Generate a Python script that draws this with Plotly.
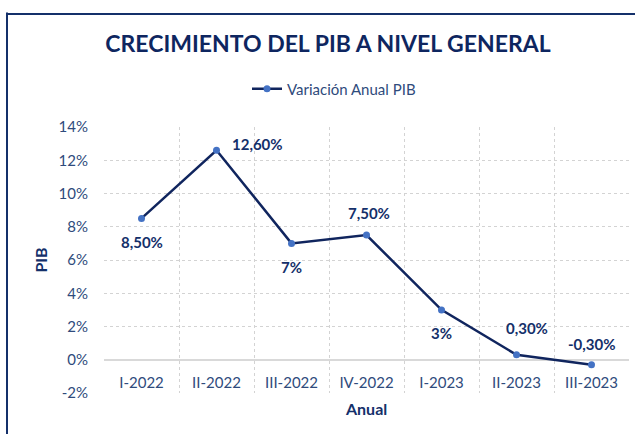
import plotly.graph_objects as go

# Quarterly GDP growth data
quarters = ["I-2022", "II-2022", "III-2022", "IV-2022", "I-2023", "II-2023", "III-2023"]
growth = [8.5, 12.6, 7.0, 7.5, 3.0, 0.3, -0.3]
value_labels = ["8,50%", "12,60%", "7%", "7,50%", "3%", "0,30%", "-0,30%"]
y_ticks = [-2, 0, 2, 4, 6, 8, 10, 12, 14]
y_tick_text = ["-2%", "0%", "2%", "4%", "6%", "8%", "10%", "12%", "14%"]

FONT = "Lato"
NAVY = "#14306A"
TICK_BLUE = "#2F4B7C"
LINE = "#10255E"
MARKER = "#4472C4"

W, H = 635, 434
L, R, T, B = 104, 6, 127, 41
pw, ph = W - L - R, H - T - B


def px_x(p):
    return (p - L) / pw


def px_y(p):
    return 1 - (p - T) / ph


fig = go.Figure()
fig.add_trace(go.Scatter(
    x=quarters, y=growth, mode="lines+markers",
    name="Variación Anual PIB",
    line=dict(color=LINE, width=2.5),
    marker=dict(color=MARKER, size=7),
))

# label offsets (px) for each point
shifts = [(0, -24), (41, 6), (0, -24), (2, 22), (0, -23), (10, 27), (0, 21)]
for q, v, t, (dx, dy) in zip(quarters, growth, value_labels, shifts):
    fig.add_annotation(x=q, y=v, text=f"<b>{t}</b>", showarrow=False,
                       xshift=dx, yshift=dy,
                       font=dict(family=FONT, size=15, color=NAVY))

# x-axis title below the category labels
fig.add_annotation(xref="paper", yref="paper", x=px_x(366), y=px_y(408),
                   text="<b>Anual</b>", showarrow=False, xanchor="center", yanchor="middle",
                   font=dict(family=FONT, size=16, color=NAVY))

# outer frame: top edge drawn as a thin filled annotation box, left edge as a shape
fig.add_annotation(xref="paper", yref="paper", x=px_x(6), y=px_y(12.5),
                   xanchor="left", yanchor="top", text=" ", showarrow=False,
                   width=629, height=2, bgcolor=NAVY, borderpad=0, borderwidth=0,
                   font=dict(size=1, color=NAVY))
fig.add_shape(type="rect", xref="paper", yref="paper",
              x0=px_x(6), x1=px_x(15.5 - 7.5), y0=px_y(440), y1=px_y(12.5),
              line=dict(width=0), fillcolor=NAVY, layer="above")

fig.update_layout(
    width=W, height=H,
    margin=dict(l=L, r=R, t=T, b=B),
    paper_bgcolor="white", plot_bgcolor="white",
    font=dict(family=FONT, color=TICK_BLUE),
    title=dict(text="<b>CRECIMIENTO DEL PIB A NIVEL GENERAL</b>",
               x=328 / W, xanchor="center", y=1 - 44 / H, yanchor="middle",
               font=dict(family=FONT, size=23, color="#0E2660")),
    showlegend=True,
    legend=dict(orientation="h", x=px_x(334), xanchor="center",
                y=px_y(89), yanchor="middle",
                font=dict(family=FONT, size=15, color=TICK_BLUE)),
    xaxis=dict(
        type="category", tickson="boundaries",
        showgrid=True, gridcolor="#D3D3D3", griddash="dot", gridwidth=1,
        showline=False, zeroline=False,
        anchor="free", position=2 / 16,
        ticks="", ticklabelstandoff=12,
        tickfont=dict(family=FONT, size=15, color=TICK_BLUE),
        range=[-0.5, 6.5],
    ),
    yaxis=dict(
        range=[-2, 14], tickvals=y_ticks, ticktext=y_tick_text,
        showgrid=True, gridcolor="#D3D3D3", griddash="dot", gridwidth=1,
        zeroline=True, zerolinecolor="#D9D9D9", zerolinewidth=2,
        showline=False, ticks="outside", ticklen=12, tickcolor="rgba(0,0,0,0)",
        tickfont=dict(family=FONT, size=15, color=TICK_BLUE),
        title=dict(text="<b>PIB</b>", font=dict(family=FONT, size=16, color=NAVY),
                   standoff=6),
    ),
)

fig.write_html("out.html", config={"displayModeBar": False})
